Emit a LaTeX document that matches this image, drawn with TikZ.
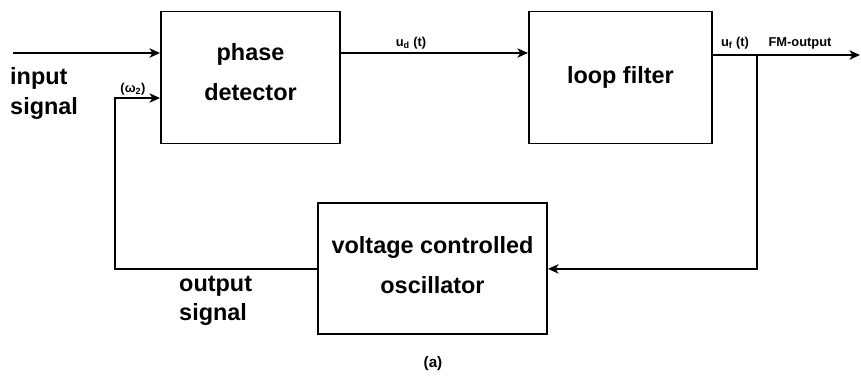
\documentclass[tikz,border=0pt]{standalone}
\usepackage{fontspec}
\setmainfont{Liberation Sans}
\usetikzlibrary{positioning,arrows.meta}

\begin{document}
\begin{tikzpicture}[x=0.03cm, y=-0.03cm, auto]

    % Define styles
    \tikzstyle{block} = [
        rectangle, draw=black, line width=1.6pt,
        minimum height=3.96cm, inner sep=0pt,
        text centered, align=center,
        font=\bfseries\fontsize{20}{34}\selectfont
    ]
    \tikzstyle{arrow} = [line width=1.4pt,->,>={Stealth[length=9pt,width=8pt,inset=2.5pt]}]
    \tikzstyle{lbl} = [font=\bfseries\fontsize{20}{25}\selectfont, align=left, inner sep=0pt]
    \tikzstyle{sig} = [font=\bfseries\fontsize{11}{13}\selectfont, inner sep=0pt]

    \useasboundingbox (0,0) rectangle (861,379);

    % Blocks
    \node[block, minimum width=5.37cm] (pd) at (250.5,77.5) {phase\\detector\rule[-9pt]{0pt}{1pt}};
    \node[block, minimum width=5.49cm, right=5.61cm of pd] (lf) {loop filter};
    \node[block, minimum width=6.87cm, minimum height=3.93cm,
          below=1.74cm of pd, xshift=5.46cm] (vco) {voltage controlled\\oscillator\rule[-7pt]{0pt}{1pt}};

    % Points on the lines
    \coordinate (in) at (13,53);
    \coordinate (tap) at (757,55);
    \coordinate (out) at (860,55);
    \coordinate (fb) at (115,98);

    % Arrows
    \draw[arrow] (in) -- (in -| pd.west);
    \draw[arrow] (pd.east |- in) -- (lf.west |- in);
    \draw[arrow] (lf.east |- out) -- (out);
    \draw[arrow] (tap) |- (vco.east);
    \draw[arrow] (vco.west) -| (fb) -- (fb -| pd.west);

    % Labels
    \node[lbl, anchor=west] (insig) at (10,93.5) {input\\signal};
    \node[lbl, anchor=west] (outsig) at (179,300.5) {output\\signal};
    \node[sig] (ud) at (411,43) {u\textsubscript{d} (t)};
    \node[sig] (uf) at (735,43) {u\textsubscript{f} (t)};
    \node[sig] (fm) at (800,43) {FM-output};
    \node[sig] (w2) at (133,89) {(ω\textsubscript{2})};
    \node[sig, font=\bfseries\fontsize{13}{15}\selectfont] (cap) at (433,364) {(a)};

\end{tikzpicture}
\end{document}
